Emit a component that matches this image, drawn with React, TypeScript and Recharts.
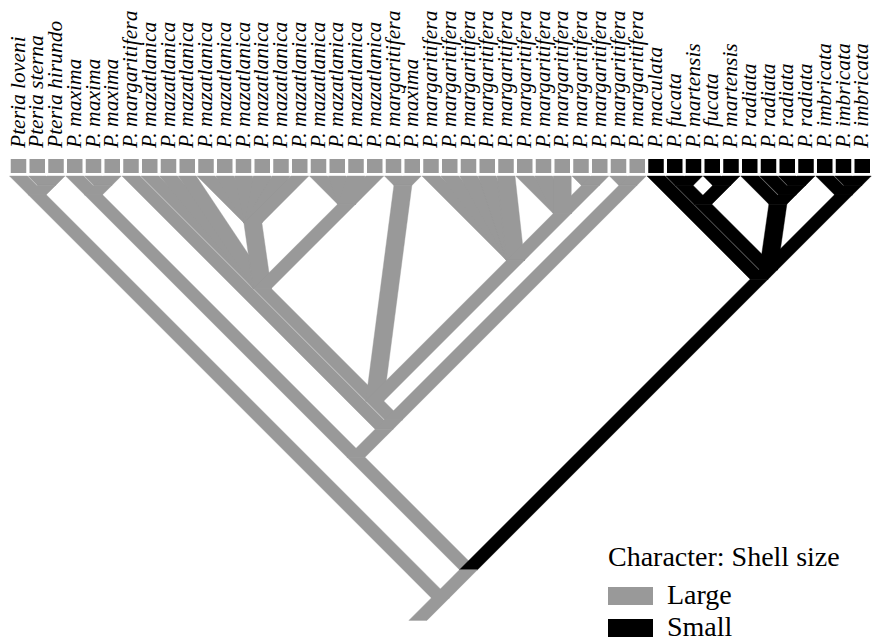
import React from 'react';
import { ScatterChart, Scatter, XAxis, YAxis, Legend } from 'recharts';

// ---------- data ----------
const TAXA: string[] = [
  'Pteria loveni', 'Pteria sterna', 'Pteria hirundo',
  'P. maxima', 'P. maxima', 'P. maxima',
  'P. margaritifera',
  'P. mazatlanica', 'P. mazatlanica', 'P. mazatlanica', 'P. mazatlanica', 'P. mazatlanica',
  'P. mazatlanica', 'P. mazatlanica', 'P. mazatlanica', 'P. mazatlanica', 'P. mazatlanica',
  'P. mazatlanica', 'P. mazatlanica', 'P. mazatlanica',
  'P. margaritifera', 'P. maxima',
  'P. margaritifera', 'P. margaritifera', 'P. margaritifera', 'P. margaritifera',
  'P. margaritifera', 'P. margaritifera', 'P. margaritifera', 'P. margaritifera',
  'P. margaritifera', 'P. margaritifera', 'P. margaritifera', 'P. margaritifera',
  'P. maculata', 'P. fucata', 'P. martensis', 'P. fucata', 'P. martensis',
  'P. radiata', 'P. radiata', 'P. radiata', 'P. radiata',
  'P. imbricata', 'P. imbricata', 'P. imbricata',
];

const SHELL_SIZE: string[] = [
  'Large', 'Large', 'Large', 'Large', 'Large', 'Large', 'Large', 'Large', 'Large', 'Large',
  'Large', 'Large', 'Large', 'Large', 'Large', 'Large', 'Large', 'Large', 'Large', 'Large',
  'Large', 'Large', 'Large', 'Large', 'Large', 'Large', 'Large', 'Large', 'Large', 'Large',
  'Large', 'Large', 'Large', 'Large',
  'Small', 'Small', 'Small', 'Small', 'Small', 'Small', 'Small', 'Small', 'Small', 'Small',
  'Small', 'Small',
];

const CHARACTER_NAME = 'Shell size';
const STATES: string[] = ['Large', 'Small'];
const STATE_COLORS: string[] = ['#999999', '#000000'];

// tree topology (leaf indices refer to TAXA)
const PTERIA = '(0,(1,2))';
const MAXIMA = '(3,(4,5))';
const MAZATLANICA = '(7,8,9,(10,11,12,13,14,15),(16,17,18,19))';
const MARG_MAXIMA = '(20,21)';
const MARGARITIFERA = '(22,23,24,25,26,(27,28,29,(30,31)))';
const MARG_TAIL = '(32,33)';
const FUCATA = '((35,36),(37,38))';
const RADIATA = '(39,(40,(41,42)))';
const IMBRICATA = '(43,(44,45))';

const LARGE_CLADE = `(${MAXIMA},(6,((${MAZATLANICA},${MARG_MAXIMA},${MARGARITIFERA}),${MARG_TAIL})))`;
const SMALL_CLADE = `(34,(${FUCATA},${RADIATA},${IMBRICATA}))`;
const TREE = `(${PTERIA},(${LARGE_CLADE},${SMALL_CLADE}))`;

// ---------- layout constants ----------
const W = 873;
const H = 643;
const UNIT = 18.75; // px per taxon spacing
const X0 = 18.5; // px of first taxon
const Y0 = 176; // px of tips
const HALF_W = 9 / UNIT; // half branch width in taxon units
const ROOT_STEM = 1.2;
const X_DOMAIN: [number, number] = [-X0 / UNIT, (W - X0) / UNIT];
const Y_DOMAIN: [number, number] = [-Y0 / UNIT, (H - Y0) / UNIT];
const SERIF = '"Liberation Serif", "Times New Roman", Times, serif';

// ---------- tree parsing ----------
type TNode = { children: TNode[]; min: number; max: number; x: number; h: number; state: number };

function parseTree(s: string): TNode {
  let i = 0;
  const read = (): TNode => {
    if (s[i] === '(') {
      i++;
      const children: TNode[] = [read()];
      while (s[i] === ',') {
        i++;
        children.push(read());
      }
      i++;
      const min = Math.min(...children.map((c) => c.min));
      const max = Math.max(...children.map((c) => c.max));
      const first = children[0].state;
      const state = children.every((c) => c.state === first) ? first : 0;
      return { children, min, max, x: (min + max) / 2, h: (max - min) / 2, state };
    }
    const j = i;
    while (i < s.length && /[0-9]/.test(s[i])) i++;
    const leaf = parseInt(s.slice(j, i), 10);
    return { children: [], min: leaf, max: leaf, x: leaf, h: 0, state: STATES.indexOf(SHELL_SIZE[leaf]) };
  };
  return read();
}

type Branch = { cx: number; ch: number; px: number; ph: number; state: number };

function collectBranches(root: TNode): Branch[] {
  const out: Branch[] = [];
  const walk = (n: TNode) => {
    n.children.forEach((c) => {
      walk(c);
      out.push({ cx: c.x, ch: c.h, px: n.x, ph: n.h, state: c.state });
    });
  };
  walk(root);
  out.push({ cx: root.x, ch: root.h, px: root.x - ROOT_STEM, ph: root.h + ROOT_STEM, state: root.state });
  return out;
}

const ROOT = parseTree(TREE);
const BRANCHES = collectBranches(ROOT);
const LEAVES = TAXA.map((name, i) => ({ x: i, y: 0, name, state: STATES.indexOf(SHELL_SIZE[i]) }));

const Empty = () => <g />;

const makePolygon = (color: string) => (p: any) => {
  const pts = (p.points || []) as { x: number; y: number }[];
  return (
    <polygon
      points={pts.map((pt) => `${pt.x},${pt.y}`).join(' ')}
      fill={color}
      stroke={color}
      strokeWidth={0.4}
    />
  );
};

const LeafShape = (props: any) => {
  const { cx, cy, payload } = props;
  const color = STATE_COLORS[payload.state];
  return (
    <g>
      <rect x={cx - 7.75} y={cy - 17} width={15.5} height={14} fill={color} />
      <text
        transform={`translate(${cx + 6},${cy - 28}) rotate(-90)`}
        fontFamily={SERIF}
        fontStyle="italic"
        fontSize={21.5}
        fill="#000"
        textAnchor="start"
      >
        {payload.name}
      </text>
    </g>
  );
};

const LegendContent = () => (
  <svg width={273} height={107} style={{ display: 'block' }}>
    <text x={8} y={30} fontFamily={SERIF} fontSize={28} fill="#000">
      {`Character: ${CHARACTER_NAME}`}
    </text>
    {STATES.map((s, k) => (
      <g key={s}>
        <rect x={8} y={51 + k * 32} width={45} height={18} fill={STATE_COLORS[k]} />
        <text x={67} y={68 + k * 32} fontFamily={SERIF} fontSize={28} fill="#000">
          {s}
        </text>
      </g>
    ))}
  </svg>
);

export default function App() {
  return (
    <div style={{ position: 'absolute', left: 0, top: 0, width: W, height: H, background: '#fff' }}>
      <ScatterChart width={W} height={H} margin={{ top: 0, right: 0, bottom: 0, left: 0 }}>
        <XAxis type="number" dataKey="x" domain={X_DOMAIN} allowDataOverflow hide />
        <YAxis type="number" dataKey="y" domain={Y_DOMAIN} allowDataOverflow reversed hide />
        {BRANCHES.map((b, k) => {
          const color = STATE_COLORS[b.state];
          const data = [
            { x: b.cx - HALF_W, y: b.ch },
            { x: b.cx + HALF_W, y: b.ch },
            { x: b.px + HALF_W, y: b.ph },
            { x: b.px - HALF_W, y: b.ph },
          ];
          return (
            <Scatter
              key={`br-${k}`}
              data={data}
              fill={color}
              shape={Empty}
              line={makePolygon(color)}
              lineType="joint"
              isAnimationActive={false}
            />
          );
        })}
        <Scatter key="leaves" data={LEAVES} shape={LeafShape} isAnimationActive={false} />
        <Legend
          layout="vertical"
          align="center"
          verticalAlign="middle"
          content={LegendContent}
          wrapperStyle={{ position: 'absolute', left: 600, top: 536, width: 273, height: 107, margin: 0 }}
        />
      </ScatterChart>
    </div>
  );
}
